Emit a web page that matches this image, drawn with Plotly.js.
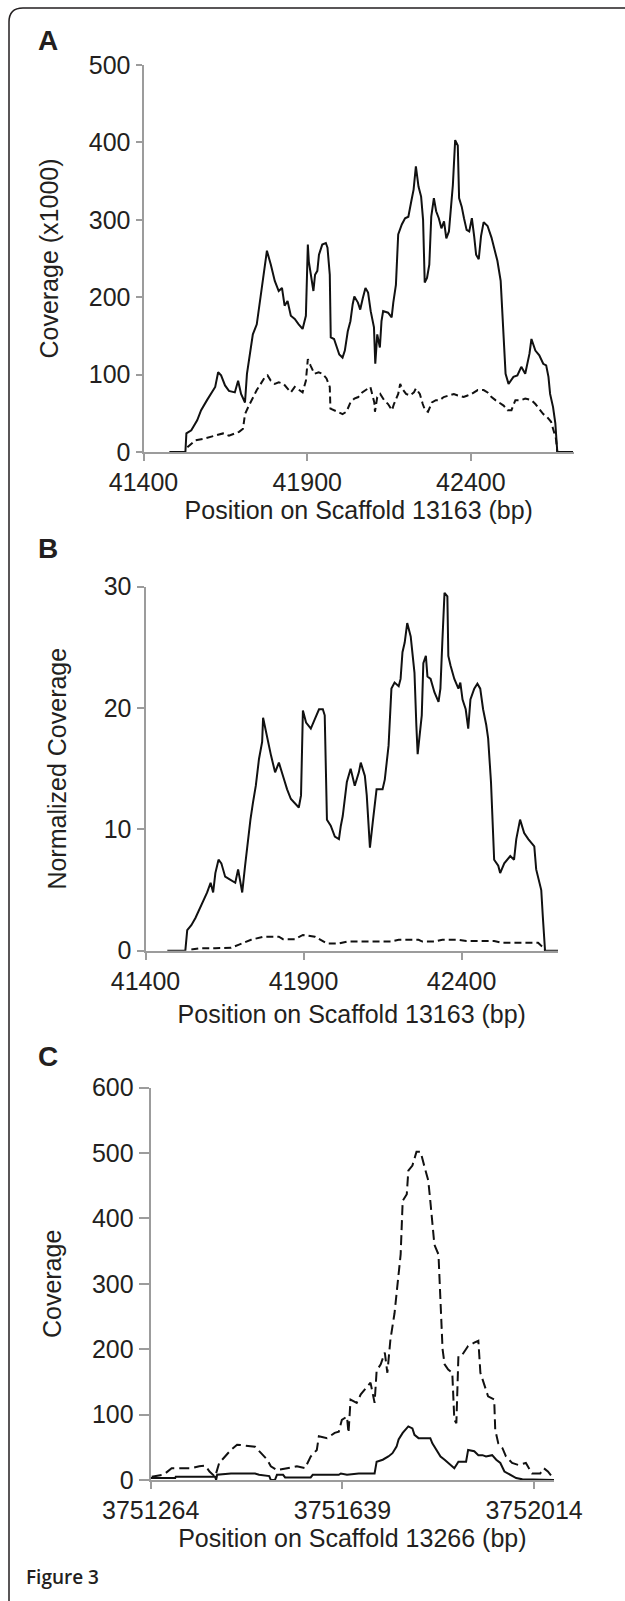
<!DOCTYPE html>
<html>
<head>
<meta charset="utf-8">
<script src="https://cdn.plot.ly/plotly-3.0.1.min.js"></script>
<style>
html,body{margin:0;padding:0;background:#fff;}
#chart{width:625px;height:1601px;}
</style>
</head>
<body>
<div id="chart"></div>
<script>
// ---------- Panel A: raw coverage (x1000), scaffold 13163 ----------
const aSolidX = [41479,41528,41531,41546,41564,41576,41594,41607,41619,41628,41637,41649,41661,41679,41689,41698,41710,41716,41726,41734,41746,41758,41767,41777,41789,41801,41813,41823,41831,41840,41850,41862,41874,41886,41896,41902,41905,41910,41919,41924,41931,41936,41946,41957,41962,41969,41972,41982,41993,41998,42008,42015,42024,42032,42039,42044,42055,42062,42070,42078,42086,42094,42104,42108,42114,42122,42127,42132,42147,42158,42163,42171,42178,42189,42199,42209,42218,42225,42232,42240,42248,42254,42259,42266,42273,42279,42287,42294,42302,42310,42318,42325,42333,42341,42345,42352,42360,42364,42372,42379,42387,42395,42403,42410,42416,42424,42431,42439,42451,42463,42473,42481,42491,42500,42506,42515,42530,42542,42554,42566,42579,42585,42597,42609,42621,42630,42637,42642,42651,42658,42664,42712];
const aSolidY = [0,0,24,28,41,54,67,75,84,103,99,86,79,77,92,75,64,101,127,152,165,204,232,260,242,221,208,212,189,195,176,172,165,159,176,268,246,231,208,229,234,255,268,270,264,229,148,146,131,126,122,131,156,169,191,201,193,184,199,212,206,182,161,114,152,135,169,182,180,174,193,216,281,294,302,304,324,339,369,343,330,300,219,225,242,304,328,311,302,289,298,276,285,319,345,403,396,328,317,302,287,285,302,279,255,249,279,297,292,277,258,247,221,144,101,88,97,99,110,101,127,146,131,125,114,112,97,75,58,37,0,0];
const aDashX = [41534,41558,41582,41600,41619,41643,41661,41679,41692,41704,41710,41722,41734,41746,41758,41771,41779,41789,41801,41813,41828,41837,41850,41862,41874,41886,41896,41902,41910,41922,41935,41947,41959,41969,41971,41983,41995,42008,42020,42032,42044,42056,42068,42080,42093,42105,42107,42114,42123,42135,42147,42159,42165,42178,42184,42190,42202,42214,42226,42232,42244,42253,42260,42269,42281,42293,42305,42317,42336,42348,42360,42378,42390,42402,42421,42439,42451,42463,42475,42487,42500,42512,42524,42536,42554,42566,42585,42597,42609,42621,42633,42645,42651,42660,42664];
const aDashY = [6,15,17,19,21,24,21,24,26,30,49,60,71,80,88,97,99,92,88,90,88,84,77,84,80,77,92,120,112,101,103,101,95,84,56,54,52,49,52,64,69,71,77,80,84,64,52,71,75,67,62,54,62,75,88,82,75,73,77,82,75,62,54,52,64,67,67,71,73,75,73,71,73,75,80,80,77,71,67,64,60,54,54,67,67,69,67,62,56,49,45,39,30,17,0];

// ---------- Panel B: normalized coverage, scaffold 13163 ----------
const bSolidX = [41469,41526,41532,41545,41558,41570,41583,41595,41606,41614,41621,41631,41640,41652,41665,41684,41693,41700,41706,41715,41724,41732,41740,41749,41759,41769,41772,41785,41797,41810,41822,41835,41848,41860,41873,41885,41892,41898,41908,41923,41936,41949,41961,41967,41974,41986,41999,42012,42018,42024,42037,42049,42062,42075,42081,42094,42100,42106,42110,42119,42125,42131,42150,42157,42169,42178,42188,42201,42207,42213,42220,42228,42239,42245,42251,42257,42261,42274,42279,42287,42292,42302,42314,42327,42333,42339,42346,42355,42358,42365,42377,42390,42396,42403,42413,42421,42428,42440,42450,42459,42468,42478,42484,42493,42503,42516,42522,42535,42554,42566,42573,42585,42598,42611,42630,42636,42645,42652,42657,42664,42705];
const bSolidY = [0,0,1.7,2.1,2.7,3.4,4.2,4.8,5.6,4.8,6.4,7.5,7.2,6.1,5.9,5.6,6.7,5.6,4.8,7.0,9.2,10.8,12.2,13.6,15.8,17.2,19.2,17.5,16.1,14.7,15.5,14.4,13.3,12.5,12.1,11.8,12.8,19.8,18.8,18.3,19.1,19.9,19.9,19.4,10.8,10.3,9.4,9.2,10.3,11.1,13.9,15.0,13.6,14.7,15.5,14.4,12.8,10.0,8.5,10.6,12.2,13.3,13.3,14.1,16.9,21.6,22.1,21.8,22.4,24.6,25.4,27.0,25.9,24.4,22.9,18.5,16.2,19.4,23.7,24.3,22.6,22.4,21.3,20.5,21.6,25.4,29.5,29.2,24.3,23.5,22.4,21.6,22.1,20.7,19.9,18.3,20.7,21.6,22.0,21.6,19.9,18.6,17.5,13.9,7.5,7.0,6.4,7.2,7.8,7.5,9.2,10.8,9.7,9.2,8.6,6.7,5.6,5.0,2.8,0,0];
const bDashX = [41545,41570,41620,41671,41696,41734,41772,41822,41835,41873,41898,41936,41974,42012,42037,42075,42100,42176,42201,42264,42276,42314,42339,42390,42415,42503,42529,42642,42661,42664];
const bDashY = [0.1,0.2,0.2,0.25,0.5,0.9,1.15,1.15,0.95,0.95,1.3,1.15,0.6,0.6,0.75,0.75,0.75,0.75,0.9,0.9,0.75,0.75,0.9,0.9,0.8,0.8,0.65,0.65,0.2,0];

// ---------- Panel C: coverage, scaffold 13266 ----------
const cSolidX = [3751264,3751312,3751313,3751390,3751392,3751394,3751421,3751468,3751476,3751496,3751499,3751507,3751511,3751523,3751527,3751577,3751581,3751632,3751636,3751648,3751671,3751702,3751706,3751718,3751729,3751737,3751745,3751749,3751757,3751768,3751776,3751780,3751788,3751811,3751815,3751823,3751831,3751839,3751846,3751858,3751866,3751881,3751885,3751897,3751905,3751913,3751920,3751932,3751940,3751948,3751956,3751967,3751979,3751991,3752053];
const cSolidY = [3,3,5,5,0,8,10,10,8,6,0,0,8,8,4,4,8,8,10,8,10,10,28,31,36,41,51,62,72,82,79,69,64,64,56,46,36,31,26,18,28,28,46,44,38,38,36,38,31,26,13,8,3,1,0];
const cDashX = [3751266,3751289,3751305,3751344,3751359,3751371,3751379,3751390,3751398,3751410,3751421,3751433,3751468,3751480,3751492,3751499,3751511,3751531,3751550,3751566,3751577,3751589,3751593,3751609,3751624,3751632,3751638,3751648,3751651,3751655,3751667,3751675,3751683,3751694,3751702,3751706,3751714,3751722,3751727,3751733,3751741,3751745,3751749,3751753,3751757,3751765,3751768,3751776,3751784,3751792,3751800,3751807,3751811,3751815,3751819,3751827,3751831,3751835,3751839,3751846,3751854,3751858,3751862,3751866,3751874,3751885,3751897,3751905,3751909,3751917,3751924,3751936,3751938,3751944,3751952,3751959,3751971,3751983,3751998,3752010,3752026,3752033,3752041,3752049];
const cDashY = [5,8,18,18,21,22,13,5,26,36,46,54,51,41,31,21,15,18,21,18,36,46,67,64,72,74,92,97,72,123,118,131,138,149,118,167,177,195,164,215,255,284,321,345,427,437,473,481,502,502,478,458,427,386,360,345,268,200,177,169,164,92,87,190,192,205,210,213,164,144,128,123,77,56,49,36,26,23,26,10,10,18,13,5];

// ---------- Tick values and labels ----------
const aXTicks = [41400,41900,42400];
const aXLabels = ["41400","41900","42400"];
const aYTicks = [0,100,200,300,400,500];
const bYTicks = [0,10,20,30];
const cXTicks = [3751264,3751639,3752014];
const cXLabels = ["3751264","3751639","3752014"];
const cYTicks = [0,100,200,300,400,500,600];

const W = 625, H = 1601;
const fx = p => p / W;
const fy = p => 1 - p / H;

const FONT = 'Liberation Sans, Arial, Helvetica, sans-serif';
const TXT = '#231f20';
const AX = '#9c9c9c';
const FS = 25;

function solid(x, y, xa, ya) {
  return {x: x, y: y, xaxis: xa, yaxis: ya, type: 'scatter', mode: 'lines',
    line: {color: '#111', width: 2}, cliponaxis: false, hoverinfo: 'skip', showlegend: false};
}
function dashed(x, y, xa, ya, dash) {
  return {x: x, y: y, xaxis: xa, yaxis: ya, type: 'scatter', mode: 'lines',
    line: {color: '#111', width: 2, dash: dash}, cliponaxis: false, hoverinfo: 'skip', showlegend: false};
}

const data = [
  dashed(aDashX, aDashY, 'x', 'y', '7px,4px'),
  solid(aSolidX, aSolidY, 'x', 'y'),
  dashed(bDashX, bDashY, 'x2', 'y2', '7px,4px'),
  solid(bSolidX, bSolidY, 'x2', 'y2'),
  dashed(cDashX, cDashY, 'x3', 'y3', '10px,5px'),
  solid(cSolidX, cSolidY, 'x3', 'y3')
];

function xAxis(domain, range, tv, tt, title, anchor, standoff) {
  return {
    domain: domain, range: range, anchor: anchor,
    tickmode: 'array', tickvals: tv, ticktext: tt,
    ticks: 'outside', ticklen: 7, tickwidth: 2, tickcolor: AX,
    showline: true, linecolor: AX, linewidth: 2,
    showgrid: false, zeroline: false, layer: 'below traces',
    tickfont: {family: FONT, size: FS, color: TXT},
    title: {text: title, font: {family: FONT, size: FS, color: TXT}, standoff: standoff},
    automargin: false, fixedrange: true
  };
}
function yAxis(domain, range, tv, title, anchor, standoff, ticklen) {
  return {
    domain: domain, range: range, anchor: anchor,
    tickmode: 'array', tickvals: tv,
    ticks: 'outside', ticklen: ticklen, tickwidth: 2, tickcolor: AX,
    showline: true, linecolor: AX, linewidth: 2,
    showgrid: false, zeroline: false, layer: 'below traces',
    tickfont: {family: FONT, size: FS, color: TXT},
    title: {text: title, font: {family: FONT, size: FS, color: TXT}, standoff: standoff},
    automargin: false, fixedrange: true
  };
}

const layout = {
  width: W, height: H,
  margin: {l: 0, r: 0, t: 0, b: 0},
  paper_bgcolor: '#fff', plot_bgcolor: 'rgba(0,0,0,0)',
  showlegend: false,
  xaxis: xAxis([fx(143.5), fx(574)], [41400, 42715], aXTicks, aXLabels, 'Position on Scaffold 13163 (bp)', 'y', 6),
  yaxis: yAxis([fy(452), fy(65)], [0, 500], aYTicks, 'Coverage (x1000)', 'x', 23, 6),
  xaxis2: xAxis([fx(145.5), fx(558)], [41400, 42705], aXTicks, aXLabels, 'Position on Scaffold 13163 (bp)', 'y2', 12),
  yaxis2: yAxis([fy(950.7), fy(586.7)], [0, 30], bYTicks, 'Normalized Coverage', 'x2', 30, 7),
  xaxis3: xAxis([fx(150.7), fx(554)], [3751264, 3752053], cXTicks, cXLabels, 'Position on Scaffold 13266 (bp)', 'y3', 3),
  yaxis3: yAxis([fy(1480), fy(1087.7)], [0, 600], cYTicks, 'Coverage', 'x3', 23, 10),
  annotations: [
    {text: '<b>A</b>', xref: 'paper', yref: 'paper', x: fx(36), y: fy(41), xanchor: 'left', yanchor: 'middle', showarrow: false, font: {family: FONT, size: 28, color: TXT}},
    {text: '<b>B</b>', xref: 'paper', yref: 'paper', x: fx(36), y: fy(549), xanchor: 'left', yanchor: 'middle', showarrow: false, font: {family: FONT, size: 28, color: TXT}},
    {text: '<b>C</b>', xref: 'paper', yref: 'paper', x: fx(36), y: fy(1056), xanchor: 'left', yanchor: 'middle', showarrow: false, font: {family: FONT, size: 28, color: TXT}},
    {text: 'Figure 3', xref: 'paper', yref: 'paper', x: fx(24), y: fy(1577), xanchor: 'left', yanchor: 'middle', showarrow: false, font: {family: 'Open Sans, Noto Sans, sans-serif', size: 19, color: '#231f20', weight: 600}}
  ],
  shapes: [
    {type: 'path', xref: 'paper', yref: 'paper',
     path: 'M ' + fx(9) + ' 0 L ' + fx(9) + ' ' + fy(22) + ' Q ' + fx(9) + ' ' + fy(8) + ' ' + fx(23) + ' ' + fy(8) + ' L 1.02 ' + fy(8),
     line: {color: '#231f20', width: 1.5}}
  ]
};

Plotly.newPlot('chart', data, layout, {staticPlot: true, displayModeBar: false});
</script>
</body>
</html>
